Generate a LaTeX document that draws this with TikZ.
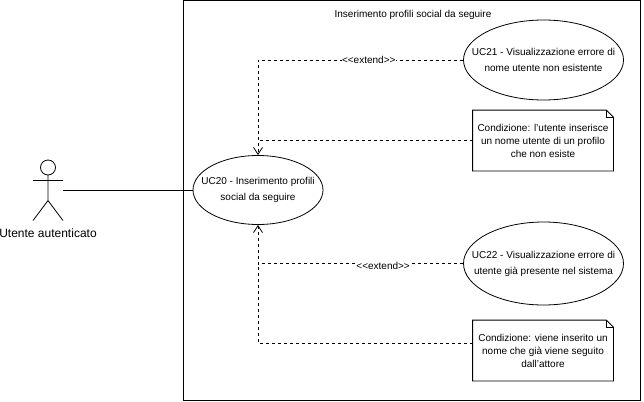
\documentclass[tikz,border=0pt]{standalone}
\usepackage{fontspec}
\setmainfont{Liberation Sans}
\usetikzlibrary{arrows.meta,shapes.geometric}
\tikzset{
  usecase/.style={draw,ellipse,align=center,inner sep=-20pt,font=\fontsize{10}{16}\selectfont},
  notebox/.style={minimum width=140pt,minimum height=60pt,inner sep=0pt,align=center,font=\fontsize{10}{13}\selectfont},
  extendline/.style={dashed,dash pattern=on 3pt off 3pt},
  extendlabel/.style={fill=white,inner sep=0.5pt,font=\fontsize{10}{12}\selectfont},
  >={Straight Barb[length=7pt,width=9pt]}
}
\newcommand{\notefold}[1]{
  \draw (#1.north west)--([xshift=-7pt]#1.north east)--([yshift=-7pt]#1.north east)--(#1.south east)--(#1.south west)--cycle;
  \draw ([xshift=-7pt]#1.north east)--([xshift=-7pt,yshift=-7pt]#1.north east)--([yshift=-7pt]#1.north east);
}
\begin{document}
\begin{tikzpicture}[x=1pt,y=-1pt,line width=0.8pt]
\useasboundingbox[fill=white] (0,0) rectangle (644,401);
\draw (183.5,0.5) rectangle (640,400.5);
\node (titolo) at (413,15) {\fontsize{10}{12}\selectfont Inserimento profili social da seguire};

\draw (48,167.5) circle (7.5pt);
\draw (48,175)--(48,200.5) (33,180.5)--(63,180.5) (33,220.5)--(48,200.5)--(63,220.5);
\node (attore) at (48,233) {\fontsize{12}{14}\selectfont Utente autenticato};
\coordinate (mano) at (63,190.5);

\node[usecase,minimum width=130pt,minimum height=69pt] (uc20) at (258,190) {UC20 - Inserimento profili\\social da seguire};
\node[usecase,minimum width=160pt,minimum height=80pt] (uc21) at (543.5,60) {UC21 - Visualizzazione errore di\\nome utente non esistente};
\node[usecase,minimum width=160pt,minimum height=83pt] (uc22) at (543.5,263.5) {UC22 - Visualizzazione errore di\\utente già presente nel sistema};
\node[notebox] (nota1) at (543,140.5) {Condizione: l'utente inserisce\\un nome utente di un profilo\\che non esiste};
\node[notebox] (nota2) at (543,350.5) {Condizione: viene inserito un\\nome che già viene seguito\\dall'attore};
\notefold{nota1}
\notefold{nota2}

\draw (mano)--(uc20.west|-mano);
\draw[extendline,->] (uc21.west)--(uc20.north|-uc21.west) node[pos=0.46,extendlabel] {{<}{<}extend{>}{>}}--(uc20.north);
\draw[extendline] (nota1.west)--(uc20.north|-nota1.west);
\draw[extendline,->] (uc22.west)--(uc20.south|-uc22.west) node[pos=0.39,extendlabel,yshift=-2pt] {{<}{<}extend{>}{>}}--(uc20.south);
\coordinate (nota2att) at ([yshift=7.5pt]nota2.west);
\draw[extendline] (nota2att)--(uc20.south|-nota2att)--(uc20.south|-uc22.west);
\end{tikzpicture}
\end{document}
